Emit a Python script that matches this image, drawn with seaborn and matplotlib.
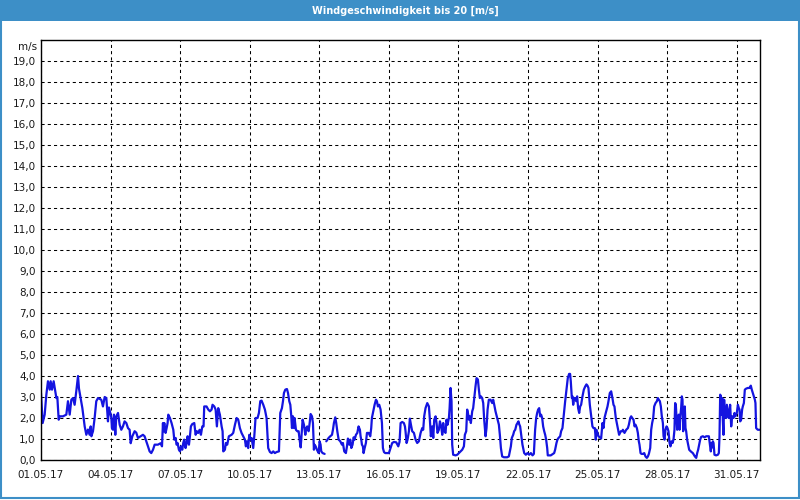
import matplotlib
matplotlib.use("Agg")
import matplotlib.pyplot as plt
from matplotlib.patches import Rectangle
import seaborn as sns
import numpy as np
import pandas as pd

# Windgeschwindigkeit Mai 2017, Stunden ab 01.05.17 00:00
start = pd.Timestamp("2017-05-01")
hours = [
    0, 1.7, 3.8, 5.5, 7.2, 9.0, 10.0, 11.4, 13.1, 14.8,
    15.9, 16.9, 18.3, 19.3, 22.8, 26.2, 27.9, 29.7, 31.4, 33.1,
    34.8, 36.5, 38.3, 39.3, 41.0, 42.8, 45.2, 46.9, 48.6, 50.3,
    51.4, 52.1, 53.8, 55.5, 57.2, 59.0, 62.4, 64.1, 65.9, 67.6,
    69.3, 70.3, 71.7, 72.8, 73.4, 74.5, 75.5, 76.9, 77.9, 79.7,
    81.4, 83.1, 84.8, 86.5, 88.3, 90.0, 91.7, 92.8, 94.5, 96.9,
    98.6, 100.3, 103.1, 105.5, 107.2, 109.0, 110.7, 112.4, 114.1, 115.9,
    117.6, 121.0, 123.8, 125.2, 126.2, 126.5, 127.6, 128.9, 130.0, 131.0,
    131.7, 133.4, 135.1, 136.9, 137.9, 139.3, 140.3, 141.3, 142.7, 143.8,
    144.8, 146.2, 147.2, 148.2, 149.6, 150.7, 151.7, 153.1, 154.1, 155.1,
    156.5, 158.6, 160.0, 161.3, 162.7, 164.1, 165.5, 166.9, 168.2, 168.9,
    171.3, 173.1, 174.8, 176.5, 177.5, 179.3, 180.7, 182.0, 183.4, 185.1,
    186.9, 187.9, 188.6, 190.3, 191.3, 192.7, 194.4, 197.2, 198.9, 200.7,
    202.4, 204.1, 205.8, 207.5, 209.3, 211.0, 212.0, 213.1, 214.4, 215.5,
    216.9, 217.9, 219.6, 220.7, 222.0, 224.1, 225.5, 226.9, 228.2, 230.0,
    231.7, 233.4, 235.1, 236.9, 238.6, 240.3, 242.0, 243.8, 246.2, 247.6,
    249.3, 250.4, 251.4, 252.8, 254.5, 255.6, 256.9, 258.0, 259.0, 259.7,
    260.7, 261.8, 262.4, 263.8, 265.2, 266.6, 267.6, 268.7, 269.3, 270.7,
    272.1, 273.5, 274.5, 275.5, 276.9, 278.0, 279.0, 280.4, 281.4, 282.4,
    283.1, 284.2, 285.5, 287.3, 288.3, 289.3, 290.0, 291.4, 293.5, 294.3,
    295.2, 297.6, 299.3, 301.1, 302.1, 303.1, 304.5, 305.5, 306.6, 308.0,
    309.7, 311.4, 312.4, 313.8, 315.5, 316.6, 317.6, 319.0, 320.0, 321.1,
    322.4, 323.5, 324.5, 325.9, 327.3, 328.6, 330.0, 330.7, 331.4, 332.1,
    333.1, 333.8, 334.9, 336.2, 337.3, 339.0, 340.7, 341.7, 342.4, 343.8,
    345.2, 346.6, 347.6, 348.6, 350.0, 351.4, 352.8, 353.8, 354.9, 356.2,
    358.0, 360.0, 361.7, 363.4, 365.2, 367.6, 369.7, 371.0, 372.1, 373.8,
    375.5, 376.6, 377.2, 378.3, 379.3, 380.7, 381.7, 382.8, 384.1, 385.9,
    387.6, 389.3, 391.0, 392.8, 394.5, 395.5, 396.5, 397.9, 399.7, 401.4,
    402.4, 403.4, 404.8, 405.9, 406.9, 408.3, 409.3, 410.3, 411.7, 412.8,
    414.1, 415.2, 416.2, 417.2, 418.6, 419.6, 420.7, 422.1, 422.8, 423.8,
    424.8, 425.5, 426.5, 429.0, 430.7, 432.4, 434.1, 435.9, 437.6, 438.6,
    440.0, 441.0, 442.1, 442.8, 443.8, 444.8, 446.2, 447.2, 448.3, 449.6,
    450.7, 452.1, 453.1, 454.1, 455.2, 456.5, 457.6, 458.6, 460.0, 461.0,
    462.1, 463.4, 465.2, 466.9, 467.9, 469.0, 470.3, 472.1, 473.8, 474.8,
    475.9, 477.2, 479.0, 480.7, 482.4, 484.1, 486.2, 487.2, 488.6, 489.6,
    490.7, 492.0, 493.1, 494.1, 494.8, 495.8, 496.9, 498.2, 500.0, 501.7,
    503.4, 505.1, 506.9, 508.6, 510.0, 510.7, 511.3, 512.4, 513.4, 514.4,
    515.5, 516.5, 517.5, 518.6, 519.6, 520.7, 521.7, 522.7, 523.8, 524.4,
    527.5, 531.0, 532.0, 533.4, 534.4, 535.5, 537.2, 538.2, 539.6, 541.3,
    542.4, 543.8, 545.1, 546.5, 547.5, 548.2, 549.3, 550.0, 550.7, 551.7,
    552.7, 553.8, 554.8, 555.8, 556.9, 557.9, 558.9, 560.3, 561.7, 563.1,
    564.4, 565.5, 566.5, 567.9, 569.3, 570.6, 571.7, 573.1, 574.1, 574.8,
    575.8, 576.9, 578.2, 579.6, 581.0, 582.0, 583.1, 584.4, 586.2, 587.2,
    588.6, 590.0, 591.3, 592.4, 593.4, 594.8, 595.8, 597.2, 598.2, 600.0,
    601.7, 602.1, 603.8, 605.6, 607.3, 608.3, 609.7, 610.7, 611.8, 613.1,
    614.2, 615.2, 616.6, 617.6, 618.6, 619.3, 620.4, 621.4, 622.8, 624.2,
    625.5, 626.9, 628.0, 629.0, 630.4, 631.4, 632.4, 633.5, 634.5, 635.9,
    637.3, 638.3, 639.3, 640.4, 641.4, 642.4, 643.5, 644.2, 645.2, 646.2,
    647.3, 648.3, 649.3, 650.4, 651.4, 652.4, 653.5, 654.5, 655.5, 656.2,
    656.9, 657.6, 658.3, 659.3, 660.0, 660.7, 661.4, 662.4, 663.1, 663.8,
    664.5, 665.2, 666.2, 666.9, 667.6, 668.6, 669.7, 670.7, 671.7, 673.1,
    674.5, 675.5, 676.6, 678.0, 679.0, 680.0, 681.1, 682.1, 683.1, 684.9,
    686.6, 688.3, 690.0, 691.1, 691.7, 692.4, 693.1, 693.8, 694.5, 695.2,
    695.9, 696.9, 698.6, 700.4, 701.4, 702.1, 702.8, 703.5, 704.2, 704.9,
    705.5, 706.2, 706.9, 707.6, 708.3, 709.0, 709.7, 710.7, 711.7, 712.4,
    713.1, 714.2, 715.2, 716.6, 717.6, 718.6, 720.0, 721.1, 722.1, 722.8,
    723.5, 724.5, 725.5, 726.2, 727.3, 728.3, 729.7, 731.4, 733.1, 734.5,
    735.5, 736.6, 737.6, 738.7, 739.3, 740.0, 741.7, 743.5,
]
speed = [
    3.2, 1.76, 2.16, 3.1, 3.75, 3.35, 3.75, 3.35, 3.75, 3.27,
    2.95, 3.0, 1.92, 2.08, 2.08, 2.16, 2.8, 2.16, 2.87, 2.95,
    2.63, 3.27, 4.0, 3.4, 2.95, 2.47, 1.6, 1.2, 1.45, 1.2,
    1.6, 1.13, 1.37, 2.0, 2.8, 2.95, 2.87, 2.55, 3.0, 2.95,
    1.84, 2.5, 2.24, 2.0, 1.52, 1.44, 2.16, 1.2, 2.08, 2.24,
    1.68, 1.44, 1.6, 1.84, 1.76, 1.52, 1.44, 0.8, 1.13, 1.37,
    1.3, 1.05, 1.13, 1.2, 1.13, 0.89, 0.65, 0.41, 0.33, 0.49,
    0.73, 0.73, 0.8, 0.65, 1.76, 1.37, 1.76, 1.29, 1.52, 1.76,
    2.16, 2.0, 1.76, 1.44, 0.97, 1.05, 0.73, 0.81, 0.49, 0.41,
    0.65, 0.49, 0.81, 0.97, 0.57, 0.81, 1.13, 0.73, 1.13, 1.6,
    1.71, 1.76, 1.2, 1.37, 1.29, 1.44, 1.2, 1.6, 1.6, 2.55,
    2.55, 2.4, 2.32, 2.4, 2.63, 2.55, 2.4, 1.6, 2.47, 2.16,
    1.6, 1.37, 0.41, 0.49, 0.81, 0.73, 1.13, 1.2, 1.29, 1.68,
    2.0, 1.92, 1.52, 1.29, 1.13, 0.97, 0.65, 0.89, 0.57, 1.2,
    0.97, 1.05, 0.57, 1.13, 2.0, 2.0, 2.24, 2.8, 2.83, 2.63,
    2.4, 2.0, 0.57, 0.38, 0.33, 0.41, 0.33, 0.38, 0.41, 2.24,
    2.47, 2.8, 3.19, 3.35, 3.38, 3.19, 2.8, 2.63, 2.08, 1.52,
    2.08, 1.52, 2.0, 1.44, 1.37, 1.37, 0.97, 0.6, 0.97, 1.92,
    1.68, 1.2, 1.52, 1.6, 1.37, 1.76, 2.19, 2.08, 1.76, 0.49,
    0.73, 0.65, 0.49, 0.33, 0.89, 0.73, 0.41, 0.33, 0.29, np.nan,
    0.89, 1.05, 1.13, 1.2, 1.44, 1.76, 2.03, 1.76, 1.37, 0.97,
    0.89, 0.73, 0.81, 0.41, 0.33, 0.65, 1.02, 0.73, 0.97, 0.57,
    0.73, 1.08, 0.97, 1.2, 1.29, 1.6, 1.44, 1.13, 0.97, 0.73,
    0.65, 0.33, 0.57, 0.81, 1.29, 1.29, 1.13, 1.52, 2.0, 2.32,
    2.63, 2.87, 2.8, 2.55, 2.63, 2.4, 1.76, 0.57, 0.38, 0.33,
    0.33, 0.33, 0.57, 0.81, 0.86, 0.84, 0.65, 0.86, 1.76, 1.81,
    1.76, 1.6, 1.37, 0.81, 0.97, 1.37, 1.97, 1.68, 1.37, 1.29,
    0.97, 0.81, 0.89, 1.29, 1.52, 1.44, 2.08, 2.47, 2.71, 2.55,
    1.92, 1.13, 1.6, 1.05, 1.92, 2.08, 1.76, 1.29, 1.44, 1.84,
    1.6, 1.2, 1.76, 1.37, 1.29, 1.92, 1.68, 2.0, 2.47, 3.43,
    2.8, 0.73, 0.25, 0.22, 0.25, 0.33, 0.41, 0.49, 0.65, 1.2,
    1.37, 2.4, 2.16, 1.92, 2.08, 1.76, 2.32, 2.47, 2.95, 3.5,
    3.9, 3.83, 3.35, 2.95, 3.03, 2.95, 2.71, 1.92, 1.13, 1.52,
    2.4, 2.87, 2.87, 2.71, 2.87, 2.63, 2.32, 2.0, 1.68, 1.2,
    0.57, 0.17, 0.13, 0.13, 0.13, 0.17, 0.65, 1.05, 1.2, 1.37,
    1.44, 1.68, 1.76, 1.84, 1.71, 1.6, 1.2, 0.73, 0.33, 0.25,
    0.33, 0.25, 0.33, 0.22, 0.29, 0.89, 1.44, 2.0, 2.24, 2.4,
    2.47, 2.08, 2.16, 2.0, 1.6, 1.37, 1.2, 0.97, 0.57, 0.22,
    0.22, 0.33, 0.49, 0.81, 0.97, 1.05, 1.13, 1.37, 1.52, 2.32,
    2.8, 3.35, 3.9, 4.1, 4.1, 3.75, 2.95, 3.03, 2.63, 2.95,
    2.95, 2.8, 3.03, 2.47, 2.24, 2.55, 2.63, 3.03, 3.35, 3.5,
    3.6, 3.54, 3.43, 2.63, 2.08, 1.6, 1.52, 1.52, 0.97, 1.44,
    1.29, 1.13, 1.08, 1.02, 1.76, 1.52, 2.0, 2.24, 2.55, 2.8,
    3.19, 3.27, 2.95, 2.63, 2.55, 2.0, 1.76, 1.44, 1.2, 1.37,
    1.37, 1.44, 1.29, 1.44, 1.52, 1.68, 2.0, 2.08, 2.0, 1.92,
    1.6, 1.68, 1.52, 1.29, 0.89, 0.73, 0.33, 0.29, 0.29, 0.33,
    0.17, 0.1, 0.17, 0.29, 0.57, 1.44, 1.76, 2.0, 2.55, 2.71,
    2.8, 2.95, 2.87, 2.8, 2.55, 2.08, 1.76, 1.13, 0.97, 1.44,
    1.6, 1.52, 1.37, 0.81, 0.65, 0.89, 0.81, 0.97, 1.44, 2.71,
    2.63, 2.0, 1.44, 2.0, 2.16, 1.44, 2.0, 2.47, 3.03, 2.87,
    1.37, 2.0, 2.55, 1.52, 1.37, 0.97, 0.73, 0.49, 0.44, 0.38,
    0.33, 0.25, 0.17, 0.1, 0.33, 0.49, 0.73, 0.97, 1.1, 1.13,
    1.08, 1.13, 1.13, 1.13, 0.89, 0.65, 0.41, 0.81, 0.6, 0.89,
    0.81, 0.25, 0.22, 0.25, 0.33, 1.13, 3.11, 3.03, 2.16, 2.95,
    1.92, 1.2, 2.87, 2.08, 2.4, 2.0, 2.63, 2.32, 2.0, 2.32,
    2.63, 1.6, 2.08, 2.0, 2.24, 2.08, 2.24, 2.63, 2.47, 2.4,
    1.84, 1.92, 2.4, 2.55, 2.71, 3.35, 3.4, 3.43, 3.43, 3.54,
    3.35, 3.19, 3.03, 2.87, 2.71, 1.52, 1.44, 1.44,
]

label_days = list(range(1, 32, 3))
minor_days = [3, 5, 9, 11, 14, 15, 17, 18, 21, 23, 27, 29, 30]
y_values = list(range(0, 20))

df = pd.DataFrame({"hours": hours, "speed": speed})
df["segment"] = df["speed"].isna().cumsum()
df = df.dropna()
df["time"] = start + pd.to_timedelta(df["hours"], unit="h")

sns.set_style("white")
plt.rcParams["font.family"] = ["DejaVu Sans"]

fig = plt.figure(figsize=(8, 5), dpi=100, facecolor="white")
ax = fig.add_axes([41 / 800, 40 / 500, 719 / 800, 420 / 500])

sns.lineplot(data=df, x="time", y="speed", units="segment", estimator=None,
             color="#1414e0", linewidth=1.6, ax=ax)

ax.set_xlim(start, start + pd.Timedelta(days=31))
ax.set_ylim(0, 20)

day_pos = [start + pd.Timedelta(days=d - 1) for d in label_days]
ax.set_xticks(day_pos)
ax.set_xticklabels([d.strftime("%d.%m.%y") for d in day_pos])
ax.set_xticks([start + pd.Timedelta(days=d - 1) for d in minor_days], minor=True)
ax.set_yticks(y_values)
ax.set_yticklabels([f"{v},0" for v in y_values])

ax.set_xlabel("")
ax.set_ylabel("")
ax.grid(True, which="major", color="black", linestyle=(0, (3, 3)), linewidth=0.75)
ax.tick_params(axis="x", which="both", direction="in", length=4, width=0.8,
               color="black", pad=7, labelsize=7.5, labelcolor="#1a1a1a")
ax.tick_params(axis="y", length=0, pad=4, labelsize=7.5, labelcolor="#1a1a1a")
for s in ax.spines.values():
    s.set_color("black")
    s.set_linewidth(1.0)
    s.set_visible(True)

ax.annotate("m/s", xy=(0, 1), xycoords="axes fraction", xytext=(-3, -1.5),
            textcoords="offset points", ha="right", va="top", fontsize=7.5,
            color="#1a1a1a")

# Titelleiste und Rahmen
fig.add_artist(Rectangle((0, 1 - 21 / 500), 1, 21 / 500, transform=fig.transFigure,
                         facecolor="#3d8fc7", edgecolor="none"))
fig.add_artist(Rectangle((0.6 / 800, 2.5 / 500), 798 / 800, 490 / 500,
                         transform=fig.transFigure, fill=False,
                         edgecolor="#3d8fc7", linewidth=1.5))
fig.text(405 / 800, 1 - 10.5 / 500, "Windgeschwindigkeit bis 20 [m/s]",
         color="white", fontweight="bold", fontsize=7, ha="center", va="center")

fig.savefig("out.png", dpi=100)
